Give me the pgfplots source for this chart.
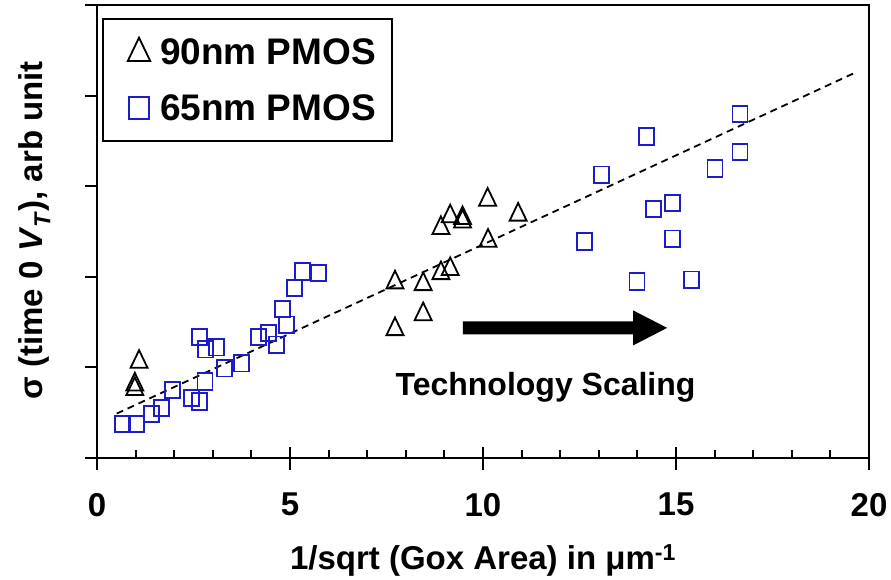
\documentclass[border=0pt]{standalone}
\usepackage{fontspec}
\setmainfont{Liberation Sans}
\usepackage{pgfplots}
\pgfplotsset{compat=1.18}
\definecolor{sqblue}{RGB}{28,28,200}
\begin{document}
\begin{tikzpicture}
\useasboundingbox (0,0) rectangle (891pt,580pt);
% inside ticks (minor) and inner half of major x ticks
\begin{axis}[
  at={(97pt,122pt)}, anchor=south west,
  scale only axis, width=772pt, height=453pt,
  xmin=0, xmax=20, ymin=0, ymax=5,
  axis line style={draw=none},
  tick align=inside,
  xtick={0,5,10,15,20}, xticklabels={},
  minor xtick={1,2,3,4,6,7,8,9,11,12,13,14,16,17,18,19},
  ytick=\empty,
  xtick pos=left,
  major tick length=11pt, minor tick length=8pt,
  tick style={line width=2pt, black},
]
\end{axis}
\begin{axis}[
  at={(97pt,122pt)}, anchor=south west,
  scale only axis, width=772pt, height=453pt,
  xmin=0, xmax=20, ymin=0, ymax=5,
  axis line style={line width=2pt, black},
  tick style={line width=2pt, black},
  tick align=outside,
  major tick length=12pt,
  xtick={0,5,10,15,20},
  xticklabels={0,5,10,15,20},
  ytick={0,1,2,3,4,5},
  yticklabels={},
  xtick pos=left, ytick pos=left,
  xticklabel style={font=\bfseries\fontsize{33}{36}\selectfont, inner sep=0pt, yshift=-23pt},
  xlabel={1/sqrt (Gox Area) in μm\textsuperscript{-1}},
  xlabel style={font=\bfseries\fontsize{33}{36}\selectfont, at={(axis description cs:0.5,-0.247)}, anchor=base, inner sep=0pt},
  ylabel={σ (time 0 \textit{V}\textsubscript{\textit{T}}), arb unit},
  ylabel style={font=\bfseries\fontsize{33}{36}\selectfont, at={(axis description cs:-0.07,0.503)}, anchor=base, inner sep=0pt},
  legend style={at={(axis description cs:0.0065,0.972)}, anchor=north west,
    draw=black, line width=2pt,
    font=\bfseries\fontsize{37}{44}\selectfont,
    inner xsep=16pt, inner ysep=19pt, row sep=28pt,
    nodes={inner sep=0pt}},
  legend cell align=left,
  clip=false,
]
\addplot[black, line width=1.8pt, dash pattern=on 7pt off 5pt, forget plot]
  coordinates {(0.51,0.49) (19.59,4.243)};
\addplot[only marks, mark=triangle, mark size=9.8pt, black, line width=1.8pt,
  mark options={yscale=1.2},
  legend image code/.code={\path[draw=none,fill=none] (0pt,-14pt) rectangle (41pt,14pt);
    \draw[black, line width=1.8pt, only marks, mark=triangle, mark size=13pt,
      mark options={yscale=1.2}] plot coordinates {(20pt,-1pt)};}]
  coordinates {
  (1.09,1.06) (0.98,0.81) (0.98,0.76)
  (7.72,1.421) (7.72,1.937) (8.45,1.586) (8.45,1.918)
  (8.91,2.039) (9.15,2.084) (8.91,2.537) (9.15,2.666)
  (9.47,2.647) (9.47,2.61) (10.13,2.397) (10.12,2.85) (10.91,2.685)
  };
\addlegendentry{90nm PMOS}
\addplot[only marks, mark=square, mark size=7.5pt, sqblue, line width=1.8pt,
  mark options={yscale=1.1},
  legend image code/.code={\path[draw=none,fill=none] (0pt,-14pt) rectangle (41pt,14pt);
    \draw[sqblue, line width=1.8pt, only marks, mark=square, mark size=10pt,
      mark options={yscale=1.1}] plot coordinates {(20pt,0pt)};}]
  coordinates {
  (0.66,0.376) (1.03,0.376) (1.42,0.486) (1.68,0.552) (1.96,0.751)
  (2.45,0.663) (2.65,0.622) (2.80,0.843) (2.65,1.334) (2.82,1.201)
  (3.10,1.223) (3.30,0.991) (3.75,1.046) (4.18,1.334) (4.44,1.378)
  (4.66,1.249) (4.91,1.47) (4.81,1.643) (5.11,1.875) (5.32,2.059) (5.73,2.041)
  (12.62,2.39) (13.07,3.127) (13.99,1.948) (14.24,3.55) (14.41,2.748)
  (14.90,2.814) (14.90,2.42) (15.41,1.967) (16.01,3.194) (16.66,3.377) (16.66,3.798)
  };
\addlegendentry{65nm PMOS}
\fill[black] ([yshift=6.5pt]axis cs:9.48,1.436) -- ([yshift=6.5pt]axis cs:13.89,1.436)
  -- ([yshift=17.5pt]axis cs:13.89,1.436) -- (axis cs:14.77,1.436)
  -- ([yshift=-17.5pt]axis cs:13.89,1.436) -- ([yshift=-6.5pt]axis cs:13.89,1.436)
  -- ([yshift=-6.5pt]axis cs:9.48,1.436) -- cycle;
\node[font=\bfseries\fontsize{32}{36}\selectfont, anchor=base, inner sep=0pt]
  at (axis cs:11.62,0.685) {Technology Scaling};
\end{axis}
\end{tikzpicture}
\end{document}
